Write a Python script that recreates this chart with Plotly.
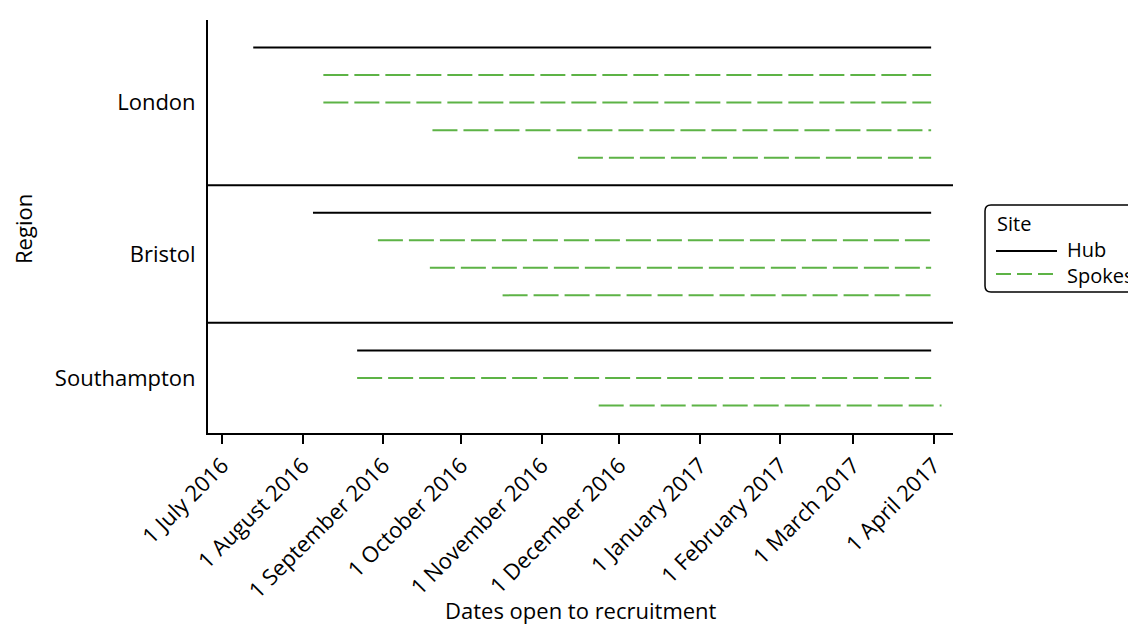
import plotly.graph_objects as go

# ---- data ----
regions = ["London", "Bristol", "Southampton"]
site_region = ["London", "London", "London", "London", "London",
               "Bristol", "Bristol", "Bristol", "Bristol",
               "Southampton", "Southampton", "Southampton"]
site_type = ["Hub", "Spokes", "Spokes", "Spokes", "Spokes",
             "Hub", "Spokes", "Spokes", "Spokes",
             "Hub", "Spokes", "Spokes"]
start_dates = ["2016-07-13", "2016-08-09", "2016-08-09", "2016-09-20", "2016-11-15",
               "2016-08-05", "2016-08-30", "2016-09-19", "2016-10-17",
               "2016-08-22", "2016-08-22", "2016-11-23"]
end_dates = ["2017-03-31", "2017-03-31", "2017-03-31", "2017-03-31", "2017-03-31",
             "2017-03-31", "2017-03-31", "2017-03-31", "2017-03-31",
             "2017-03-31", "2017-03-31", "2017-04-04"]
tick_dates = ["2016-07-01", "2016-08-01", "2016-09-01", "2016-10-01", "2016-11-01",
              "2016-12-01", "2017-01-01", "2017-02-01", "2017-03-01", "2017-04-01"]
tick_labels = ["1 July 2016", "1 August 2016", "1 September 2016", "1 October 2016",
               "1 November 2016", "1 December 2016", "1 January 2017",
               "1 February 2017", "1 March 2017", "1 April 2017"]

HUB_COLOR = "#000000"
SPOKE_COLOR = "#5db346"
FONT = "Open Sans"
FS = 22

# ---- row layout (one empty row between regions) ----
rows = []
sep_rows = []
group_centres = []
r = 0
for gi, reg in enumerate(regions):
    idx = [i for i, s in enumerate(site_region) if s == reg]
    first = r
    for _ in idx:
        rows.append(r)
        r += 1
    group_centres.append((first + r - 1) / 2)
    if gi < len(regions) - 1:
        sep_rows.append(r)
        r += 1
n_rows = r

fig = go.Figure()
for i in range(len(site_region)):
    hub = site_type[i] == "Hub"
    fig.add_trace(go.Scatter(
        x=[start_dates[i], end_dates[i]], y=[rows[i], rows[i]],
        mode="lines",
        line=dict(color=HUB_COLOR if hub else SPOKE_COLOR, width=2,
                  dash="solid" if hub else "25px,6px"),
        showlegend=False, hoverinfo="skip"))

for s in sep_rows:
    fig.add_shape(type="line", xref="paper", x0=0, x1=1, yref="y", y0=s, y1=s,
                  line=dict(color="black", width=2))

# ---- geometry (page has an 8px body margin) ----
W, H = 1128, 618
L, R, T, B = 200, 183, 12, 193
pw, ph = W - L - R, H - T - B
PL, PB = 208, 433  # plot-area left / bottom in page pixels
def px(x):
    return (x - PL) / pw
def py(y):
    return (PB - y) / ph

# manual legend
bx0, bx1, by0, by1, rad = 985, 1160, 205, 292, 6
path = (f"M {px(bx0+rad)},{py(by0)} L {px(bx1-rad)},{py(by0)} "
        f"Q {px(bx1)},{py(by0)} {px(bx1)},{py(by0+rad)} "
        f"L {px(bx1)},{py(by1-rad)} Q {px(bx1)},{py(by1)} {px(bx1-rad)},{py(by1)} "
        f"L {px(bx0+rad)},{py(by1)} Q {px(bx0)},{py(by1)} {px(bx0)},{py(by1-rad)} "
        f"L {px(bx0)},{py(by0+rad)} Q {px(bx0)},{py(by0)} {px(bx0+rad)},{py(by0)} Z")
fig.add_shape(type="path", xref="paper", yref="paper", path=path,
              line=dict(color="black", width=1.5))
fig.add_shape(type="line", xref="paper", yref="paper",
              x0=px(996), x1=px(1057), y0=py(251), y1=py(251),
              line=dict(color=HUB_COLOR, width=2))
fig.add_shape(type="line", xref="paper", yref="paper",
              x0=px(996), x1=px(1057), y0=py(274), y1=py(274),
              line=dict(color=SPOKE_COLOR, width=2, dash="15px,6px"))
for txt, x, y in [("Site", 995, 223), ("Hub", 1065, 249), ("Spokes", 1065, 275)]:
    fig.add_annotation(text=txt, xref="paper", yref="paper", x=px(x), y=py(y),
                       xanchor="left", yanchor="middle", showarrow=False,
                       font=dict(family=FONT, size=20, color="black"))

# axis titles
fig.add_annotation(text="Region", xref="paper", yref="paper", x=px(23), y=py(229),
                   textangle=-90, showarrow=False, xanchor="center", yanchor="middle",
                   font=dict(family=FONT, size=FS, color="black"))
fig.add_annotation(text="Dates open to recruitment", xref="paper", yref="paper",
                   x=px(581), y=py(610), showarrow=False, xanchor="center",
                   yanchor="middle", font=dict(family=FONT, size=FS, color="black"))

fig.update_layout(
    width=W, height=H,
    margin=dict(l=L, r=R, t=T, b=B, pad=0),
    paper_bgcolor="white", plot_bgcolor="white",
    showlegend=False,
    font=dict(family=FONT, size=FS, color="black"),
    xaxis=dict(type="date", range=["2016-06-25 14:00", "2017-04-08 10:00"],
               tickvals=tick_dates, ticktext=tick_labels, tickangle=-45,
               ticks="outside", ticklen=9, tickwidth=2, tickcolor="black",
               showline=True, linecolor="black", linewidth=2,
               showgrid=False, zeroline=False,
               tickfont=dict(family=FONT, size=FS, color="black")),
    yaxis=dict(range=[n_rows, -1], tickvals=group_centres, ticktext=regions,
               ticks="outside", ticklen=6, tickcolor="rgba(0,0,0,0)",
               showline=True, linecolor="black", linewidth=2,
               showgrid=False, zeroline=False,
               tickfont=dict(family=FONT, size=FS, color="black")),
)

fig.write_html("out.html")
